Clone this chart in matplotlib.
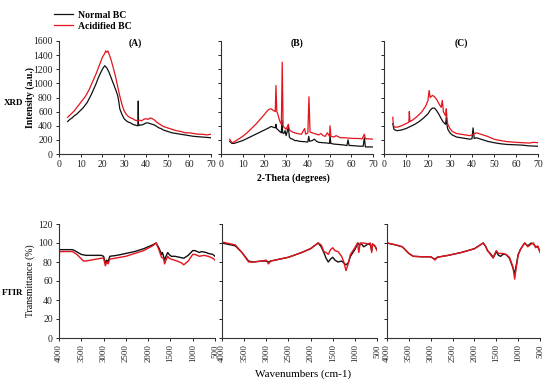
import numpy as np
import matplotlib
matplotlib.use('Agg')
import matplotlib.pyplot as plt

plt.rcParams['font.family'] = ['Liberation Serif', 'DejaVu Serif']

# XRD data (2-theta, intensity a.u.)
xrd_a_normal = [(4,460),(5,490),(6,510),(7,540),(8,560),(9,590),(10,620),(11,650),(12,690),(13,730),(14,790),(15,850),
                (16,920),(17,990),(18,1070),(19,1140),(20,1200),(21,1250),(22,1220),(23,1160),(24,1080),(25,1000),(26,920),
                (27,830),(27.5,750),(28,640),(29,560),(30,500),(31,470),(32,450),(33,440),(34,420),(35,410),(36,400),
                (36.4,410),(36.5,750),(36.6,400),(37,410),(38,410),(39,420),(40,440),(41,440),(42,430),(43,420),(44,410),
                (45,390),(46,370),(47,360),(48,340),(49,330),(50,320),(52,300),(54,290),(56,280),(58,270),(60,260),
                (62,250),(64,245),(66,240),(68,235),(70,230)]
xrd_a_acid = [(4,520),(5,550),(6,580),(7,610),(8,650),(9,690),(10,730),(11,770),(12,810),(13,860),(14,920),(15,990),
              (16,1060),(17,1130),(18,1210),(19,1290),(20,1370),(21,1420),(21.5,1460),(22,1440),(22.5,1460),(23,1420),
              (24,1330),(25,1220),(26,1100),(27,960),(28,820),(29,700),(30,610),(31,560),(32,530),(33,510),(34,500),
              (35,480),(36,470),(37,480),(38,470),(39,490),(40,500),(41,490),(42,510),(43,500),(44,480),(45,450),
              (46,430),(47,410),(48,390),(49,380),(50,370),(52,350),(54,330),(56,320),(58,300),(60,300),(62,290),
              (64,280),(66,280),(68,270),(70,280)]
xrd_b_normal = [(4,180),(5,150),(6,150),(8,170),(10,190),(12,220),(14,250),(16,280),(18,310),(20,340),(22,370),(23,390),
                (24,380),(25,370),(25.3,420),(25.6,360),(26,350),(27,320),(27.8,300),(28.1,480),(28.4,300),(29,290),
                (29.5,330),(30,260),(31,380),(31.5,240),(32,220),(33,210),(34,190),(35,190),(36,180),(38,175),(40,170),
                (40.4,250),(40.8,180),(42,190),(43,210),(44,180),(45,165),(47,160),(49,155),(50,150),(50.2,260),
                (50.6,150),(52,140),(54,135),(56,130),(58,120),(58.5,200),(59,120),(60,120),(62,115),(64,110),
                (65.5,110),(66,230),(66.5,100),(68,100),(70,100)]
xrd_b_acid = [(4,210),(5,160),(6,170),(8,210),(10,250),(12,300),(14,360),(16,420),(18,490),(20,560),(21,600),(22,630),
              (23,640),(24,620),(25,600),(25.3,970),(25.7,600),(26,580),(27,470),(27.8,420),(28.2,1300),(28.6,400),
              (29,380),(30,350),(31,420),(31.5,340),(32,330),(33,310),(35,290),(37,280),(38.5,360),(39,280),(40,300),
              (40.5,810),(41,310),(42,300),(43,290),(45,270),(46,290),(47,260),(48,250),(49,300),(50,250),(50.2,400),
              (50.6,250),(52,240),(53,260),(55,230),(57,230),(59,225),(61,220),(63,220),(65,215),(66,280),(66.5,215),
              (68,215),(70,210)]
xrd_c_normal = [(4,430),(4.5,350),(5,340),(6,330),(8,340),(10,360),(12,390),(14,420),(16,460),(18,510),(20,570),
                (21,620),(22,650),(23,650),(24,610),(25,560),(26,500),(27,450),(28,420),(28.3,520),(28.7,400),(29,350),
                (30,300),(31,270),(33,240),(35,230),(37,220),(39,210),(40,215),(40.5,370),(41,220),(42,230),(43,220),
                (45,200),(47,180),(50,160),(53,145),(56,135),(60,130),(63,125),(66,115),(70,110)]
xrd_c_acid = [(4,520),(4.3,400),(5,380),(6,380),(8,400),(10,430),(11.3,450),(11.5,600),(11.8,460),(13,480),(15,530),
              (17,590),(19,680),(20,760),(20.5,900),(21,800),(22,830),(23,810),(24,770),(25,710),(26,660),(26.5,760),
              (27,600),(28,540),(28.3,640),(28.7,480),(29,420),(30,360),(31,320),(33,290),(35,280),(37,270),(39,260),
              (40,270),(42,300),(43,290),(45,270),(47,250),(50,210),(53,190),(56,175),(60,165),(63,160),(66,155),
              (68,165),(70,160)]

# FTIR data (wavenumber, transmittance %)
ftir_a_normal = [(4000,93),(3700,93),(3650,92),(3500,88),(3400,87),(3050,87),(3000,86),(2960,79),(2930,82),(2900,80),
                 (2860,86),(2700,87),(2500,89),(2300,91),(2100,94),(1900,98),(1820,100),(1750,94),(1700,88),(1680,90),
                 (1630,82),(1600,86),(1560,90),(1530,88),(1480,86),(1400,86),(1300,85),(1200,84),(1100,87),(1000,92),
                 (950,92),(850,90),(800,91),(700,90),(650,89),(550,88),(500,86)]
ftir_a_acid = [(4000,65),(3990,91),(3700,91),(3600,88),(3450,81),(3400,81),(3050,84),(3000,84),(2960,76),(2930,80),
               (2900,78),(2860,83),(2500,86),(2300,89),(2100,92),(1900,97),(1820,100),(1760,93),(1700,85),(1660,84),
               (1630,78),(1600,82),(1560,86),(1530,84),(1480,83),(1350,81),(1250,79),(1200,77),(1100,81),(1000,88),
               (950,88),(850,86),(750,87),(650,86),(550,84),(500,82)]
ftir_b_normal = [(4000,100),(3900,99),(3700,97),(3550,90),(3400,81),(3300,80),(3100,81),(3000,81),(2950,80),(2900,81),
                 (2800,82),(2500,85),(2200,90),(2000,94),(1830,100),(1760,96),(1700,90),(1650,84),(1600,80),(1550,83),
                 (1500,85),(1450,82),(1380,80),(1300,81),(1250,79),(1200,77),(1150,79),(1100,86),(1000,93),(930,100),
                 (900,98),(850,99),(800,96),(700,99),(650,98),(620,92),(600,99),(550,97),(500,93)]
ftir_b_acid = [(4000,68),(3995,101),(3700,98),(3550,90),(3400,80),(3300,80),(3100,81),(3000,82),(2950,78),(2900,81),
               (2800,82),(2500,85),(2200,90),(2000,94),(1830,100),(1760,98),(1700,91),(1650,90),(1600,88),(1550,93),
               (1500,95),(1450,92),(1380,91),(1300,86),(1250,80),(1200,71),(1150,78),(1100,88),(1000,95),(940,100),
               (910,90),(880,100),(800,100),(700,99),(650,100),(620,90),(600,99),(550,97),(500,92)]
ftir_c_normal = [(4000,100),(3800,98),(3650,96),(3500,89),(3400,86),(3200,85.5),(3000,85.5),(2950,84),(2900,83),
                 (2850,85),(2600,87),(2300,90),(2000,94),(1800,100),(1750,97),(1700,92),(1620,88),(1570,85),(1530,88),
                 (1500,91),(1450,87),(1400,86),(1350,88),(1280,88),(1200,84),(1120,74),(1080,68),(1050,75),(1000,88),
                 (950,93),(880,98),(850,100),(780,97),(700,100),(650,99),(600,96),(550,96),(500,91)]
ftir_c_acid = [(4000,66),(3995,100),(3800,98),(3650,96),(3500,89),(3400,86),(3200,85.5),(3000,85.5),(2950,84),
               (2900,82),(2850,85),(2600,87),(2300,90),(2000,94),(1800,100),(1750,97),(1700,92),(1620,87),(1570,84),
               (1530,89),(1500,92),(1450,89),(1400,89),(1350,89),(1280,88),(1200,85),(1120,75),(1080,62),(1050,72),
               (1000,87),(950,93),(880,98),(850,100),(780,96),(700,99),(650,100),(600,95),(550,97),(500,90)]

panel_titles = ['(A)', '(B)', '(C)']
black = '#111111'
red = '#e3141c'

W, H = 550.0, 386.0
def px_axes(fig, l, t, r, b):
    return fig.add_axes([l / W, 1 - b / H, (r - l) / W, (b - t) / H])

fig = plt.figure(figsize=(5.5, 3.86), dpi=100)

top_boxes = [(59, 41, 211, 154), (221, 41, 373, 154), (384, 41, 538, 154)]
bot_boxes = [(59, 224, 215, 338), (222, 224, 377, 338), (387, 224, 540, 338)]
xrd_sets = [(xrd_a_normal, xrd_a_acid), (xrd_b_normal, xrd_b_acid), (xrd_c_normal, xrd_c_acid)]
ftir_sets = [(ftir_a_normal, ftir_a_acid), (ftir_b_normal, ftir_b_acid), (ftir_c_normal, ftir_c_acid)]

def style(ax):
    for s in ['top', 'right']:
        ax.spines[s].set_visible(False)
    for s in ['left', 'bottom']:
        ax.spines[s].set_linewidth(0.8)
        ax.spines[s].set_color('#333333')
    ax.tick_params(direction='out', length=2.5, width=0.7, labelsize=7, pad=2, colors='#222222')

for i in range(3):
    ax = px_axes(fig, *top_boxes[i])
    nrm = np.array(xrd_sets[i][0])
    acd = np.array(xrd_sets[i][1])
    l1, = ax.plot(nrm[:, 0], nrm[:, 1], color=black, lw=0.9)
    l2, = ax.plot(acd[:, 0], acd[:, 1], color=red, lw=0.9)
    ax.set_xlim(0, 70)
    ax.set_ylim(0, 1600)
    ax.set_xticks(np.arange(0, 71, 10))
    ax.set_yticks(np.arange(0, 1601, 200))
    style(ax)
    if i > 0:
        ax.set_yticklabels([])
    ax.text(0.5, 1.02, panel_titles[i], transform=ax.transAxes, ha='center', va='top',
            fontsize=7, fontweight='bold')
    if i == 0:
        ax.set_ylabel('Intensity (a.u.)', fontsize=7, fontweight='bold')
        ax.yaxis.set_label_coords((35 - 59) / 152.0, 0.5)
        handles = [l1, l2]

for i in range(3):
    ax = px_axes(fig, *bot_boxes[i])
    nrm = np.array(ftir_sets[i][0])
    acd = np.array(ftir_sets[i][1])
    ax.plot(nrm[:, 0], nrm[:, 1], color=black, lw=1.0)
    ax.plot(acd[:, 0], acd[:, 1], color=red, lw=1.0)
    ax.set_xlim(4000, 500)
    ax.set_ylim(0, 120)
    ax.set_xticks(np.arange(4000, 499, -500))
    ax.set_yticks(np.arange(0, 121, 20))
    style(ax)
    ax.tick_params(axis='x', labelsize=6.3)
    for lab in ax.get_xticklabels():
        lab.set_rotation(90)
    if i > 0:
        ax.set_yticklabels([])
    if i == 0:
        ax.set_ylabel('Transmittance (%)', fontsize=7)
        ax.yaxis.set_label_coords((35 - 59) / 156.0, 0.5)

fig.legend(handles, ['Normal BC', 'Acidified BC'], loc='upper left', bbox_to_anchor=(50 / W, 1 - 7 / H),
           frameon=False, prop={'size': 7, 'weight': 'bold'}, handlelength=2.0, handletextpad=0.5,
           labelspacing=0.2, borderaxespad=0)

fig.text(4 / W, 1 - 103 / H, 'XRD', fontsize=6.5, fontweight='bold', va='center', ha='left')
fig.text(2 / W, 1 - 293 / H, 'FTIR', fontsize=6.5, fontweight='bold', va='center', ha='left')
fig.text(293 / W, 1 - 178 / H, '2-Theta (degrees)', fontsize=7, fontweight='bold', va='center', ha='center')
fig.text(303 / W, 1 - 374 / H, 'Wavenumbers (cm-1)', fontsize=8, va='center', ha='center')

fig.savefig('out.png', dpi=100)
plt.close()
